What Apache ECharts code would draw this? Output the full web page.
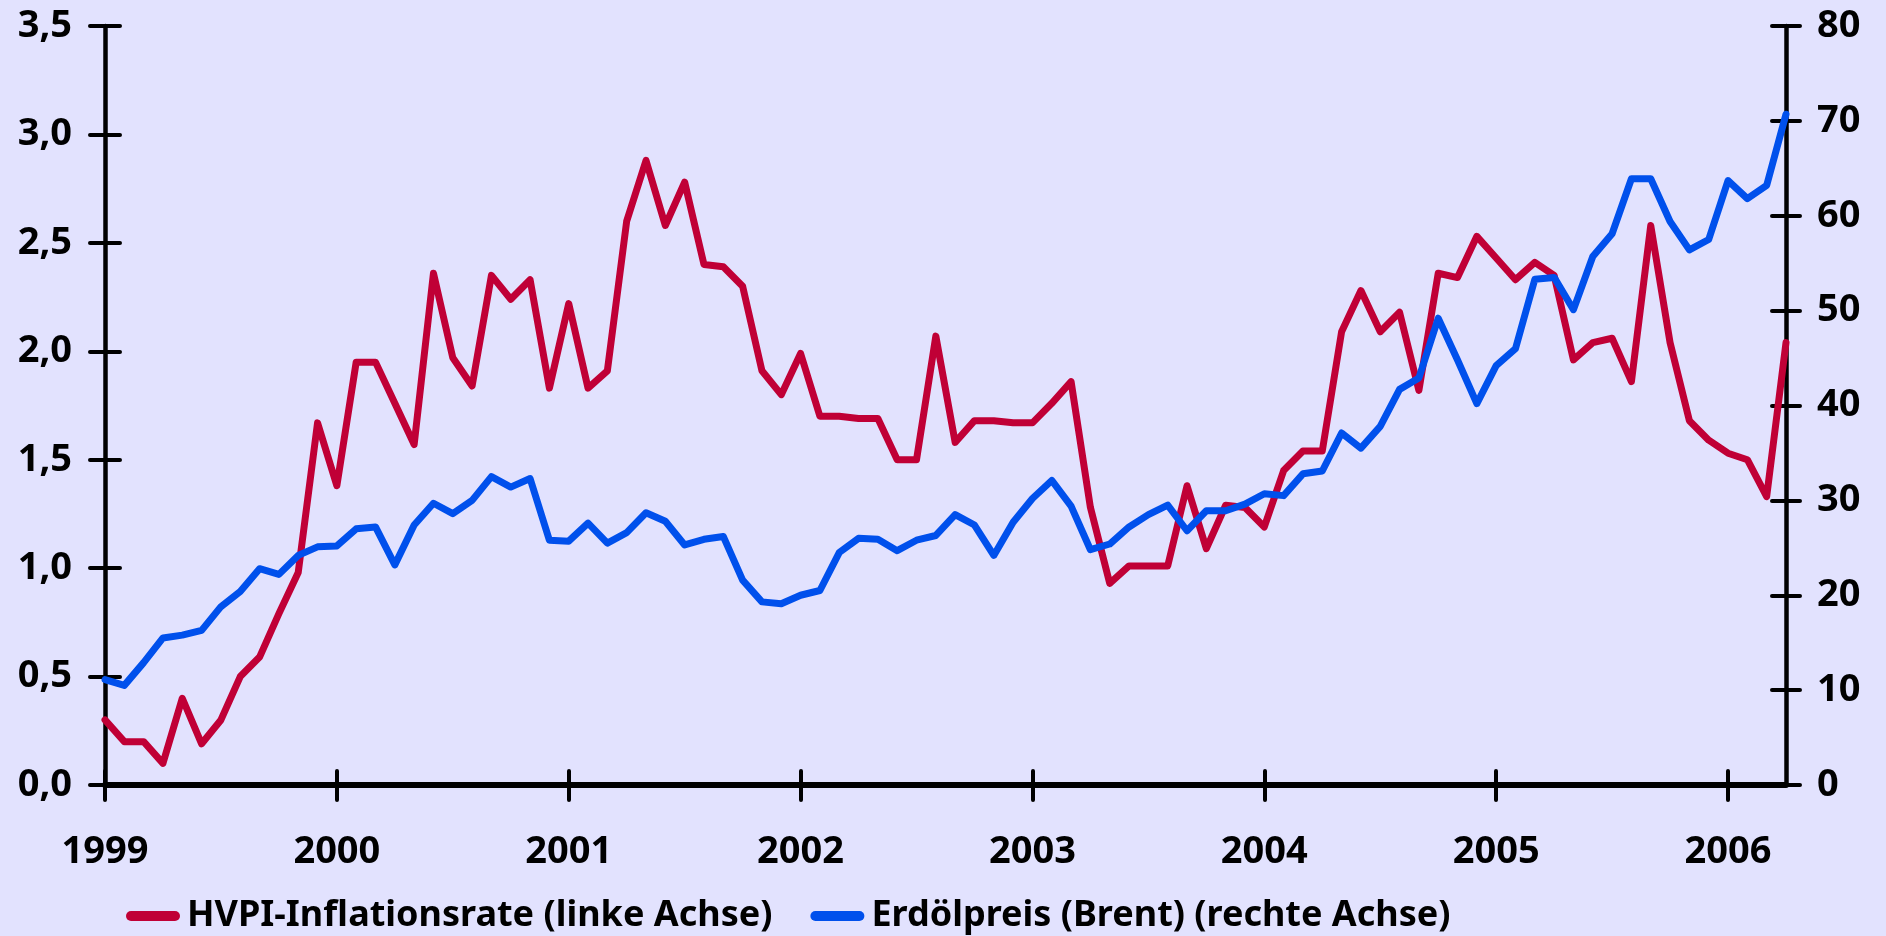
<!DOCTYPE html>
<html>
<head>
<meta charset="utf-8">
<script src="https://cdn.jsdelivr.net/npm/echarts@6/dist/echarts.min.js"></script>
<style>
html,body{margin:0;padding:0;background:#E2E2FE;}
#chart{width:1886px;height:936px;}
</style>
</head>
<body>
<div id="chart"></div>
<script>
// Monthly observations, January 1999 – April 2006
const startYear = 1999;
const yearLabels = ['1999','2000','2001','2002','2003','2004','2005','2006'];
const seriesNames = ['HVPI-Inflationsrate (linke Achse)', 'Erdölpreis (Brent) (rechte Achse)'];

const hvpi = [
  0.30,0.20,0.20,0.10,0.40,0.19,0.30,0.50,0.59,0.79,0.98,1.67,
  1.38,1.95,1.95,1.76,1.57,2.36,1.97,1.84,2.35,2.24,2.33,1.83,
  2.22,1.83,1.91,2.60,2.88,2.58,2.78,2.40,2.39,2.30,1.91,1.80,
  1.99,1.70,1.70,1.69,1.69,1.50,1.50,2.07,1.58,1.68,1.68,1.67,
  1.67,1.76,1.86,1.28,0.93,1.01,1.01,1.01,1.38,1.09,1.29,1.28,
  1.19,1.45,1.54,1.54,2.09,2.28,2.09,2.18,1.82,2.36,2.34,2.53,
  2.43,2.33,2.41,2.35,1.96,2.04,2.06,1.86,2.58,2.04,1.68,1.59,
  1.53,1.50,1.33,2.04
];
const brent = [
  11.1,10.5,12.9,15.5,15.8,16.3,18.8,20.4,22.8,22.2,24.2,25.1,
  25.2,27.0,27.2,23.2,27.4,29.7,28.6,30.0,32.5,31.4,32.3,25.8,
  25.7,27.6,25.5,26.6,28.7,27.8,25.3,25.9,26.2,21.6,19.3,19.1,
  20.0,20.5,24.5,26.0,25.9,24.7,25.8,26.3,28.5,27.4,24.2,27.7,
  30.2,32.1,29.4,24.8,25.4,27.2,28.5,29.5,26.8,28.9,28.9,29.6,
  30.7,30.5,32.8,33.1,37.1,35.5,37.8,41.7,42.9,49.2,44.8,40.2,
  44.2,46.0,53.3,53.5,50.1,55.7,58.1,63.9,63.9,59.4,56.4,57.5,
  63.7,61.8,63.2,70.7
];

const months = hvpi.map((_, i) => {
  const y = startYear + Math.floor(i / 12);
  const m = (i % 12) + 1;
  return y + '-' + (m < 10 ? '0' + m : m);
});

const FONT = '"Noto Sans", "Open Sans", sans-serif';
const BLACK = '#000000';
const RED = '#C00036';
const BLUE = '#0050EC';

const isJan = (idx) => idx % 12 === 0;

const tickStyle = { color: BLACK, width: 4, cap: 'round' };

const chart = echarts.init(document.getElementById('chart'), null, { renderer: 'canvas' });

chart.setOption({
  backgroundColor: '#E2E2FE',
  animation: false,
  grid: { left: 105, right: 100, top: 26, bottom: 151 },
  legend: {
    left: 121,
    top: 893,
    itemGap: 38,
    itemWidth: 54,
    itemHeight: 10,
    icon: 'path://M5,0 L49,0 A5,5 0 0 1 49,10 L5,10 A5,5 0 0 1 5,0 Z',
    textStyle: { fontFamily: FONT, fontWeight: 'bold', fontSize: 36, color: BLACK, padding: [0,0,0,2] },
    data: seriesNames
  },
  xAxis: [
    {
      type: 'category',
      data: months,
      boundaryGap: false,
      axisLine: { show: true, onZero: false, lineStyle: { color: BLACK, width: 6 } },
      axisTick: { show: true, interval: (idx) => isJan(idx), length: 15, inside: false, lineStyle: tickStyle },
      axisLabel: {
        interval: (idx) => isJan(idx),
        formatter: (v) => yearLabels[parseInt(v.slice(0, 4), 10) - startYear],
        margin: 48,
        fontFamily: FONT, fontWeight: 'bold', fontSize: 38, color: BLACK
      },
      splitLine: { show: false }
    },
    {
      type: 'category',
      data: months,
      boundaryGap: false,
      position: 'bottom',
      axisLine: { show: false },
      axisTick: { show: true, interval: (idx) => isJan(idx), length: 14, inside: true, lineStyle: tickStyle },
      axisLabel: { show: false },
      splitLine: { show: false }
    }
  ],
  yAxis: [
    {
      type: 'value', position: 'left', min: 0, max: 3.5, interval: 0.5,
      axisLine: { show: true, lineStyle: { color: BLACK, width: 4.5 } },
      axisTick: { show: true, length: 15, inside: false, lineStyle: tickStyle },
      axisLabel: {
        margin: 33,
        formatter: (v) => v.toFixed(1).replace('.', ','),
        fontFamily: FONT, fontWeight: 'bold', fontSize: 38, color: BLACK
      },
      splitLine: { show: false }
    },
    {
      type: 'value', position: 'right', min: 0, max: 80, interval: 10,
      axisLine: { show: true, lineStyle: { color: BLACK, width: 4.5 } },
      axisTick: { show: true, length: 14, inside: false, lineStyle: tickStyle },
      axisLabel: {
        margin: 31,
        formatter: (v) => String(v),
        fontFamily: FONT, fontWeight: 'bold', fontSize: 38, color: BLACK
      },
      splitLine: { show: false }
    },
    {
      type: 'value', position: 'left', min: 0, max: 3.5, interval: 0.5,
      axisLine: { show: false },
      axisTick: { show: true, length: 15, inside: true, lineStyle: tickStyle },
      axisLabel: { show: false },
      splitLine: { show: false }
    },
    {
      type: 'value', position: 'right', min: 0, max: 80, interval: 10,
      axisLine: { show: false },
      axisTick: { show: true, length: 14, inside: true, lineStyle: tickStyle },
      axisLabel: { show: false },
      splitLine: { show: false }
    }
  ],
  series: [
    {
      name: seriesNames[0],
      type: 'line',
      xAxisIndex: 0, yAxisIndex: 0,
      data: hvpi,
      symbol: 'none',
      z: 3,
      itemStyle: { color: RED },
      lineStyle: { color: RED, width: 7, join: 'round', cap: 'round' }
    },
    {
      name: seriesNames[1],
      type: 'line',
      xAxisIndex: 0, yAxisIndex: 1,
      data: brent,
      symbol: 'none',
      z: 3,
      itemStyle: { color: BLUE },
      lineStyle: { color: BLUE, width: 7, join: 'round', cap: 'round' }
    }
  ]
});
</script>
</body>
</html>
